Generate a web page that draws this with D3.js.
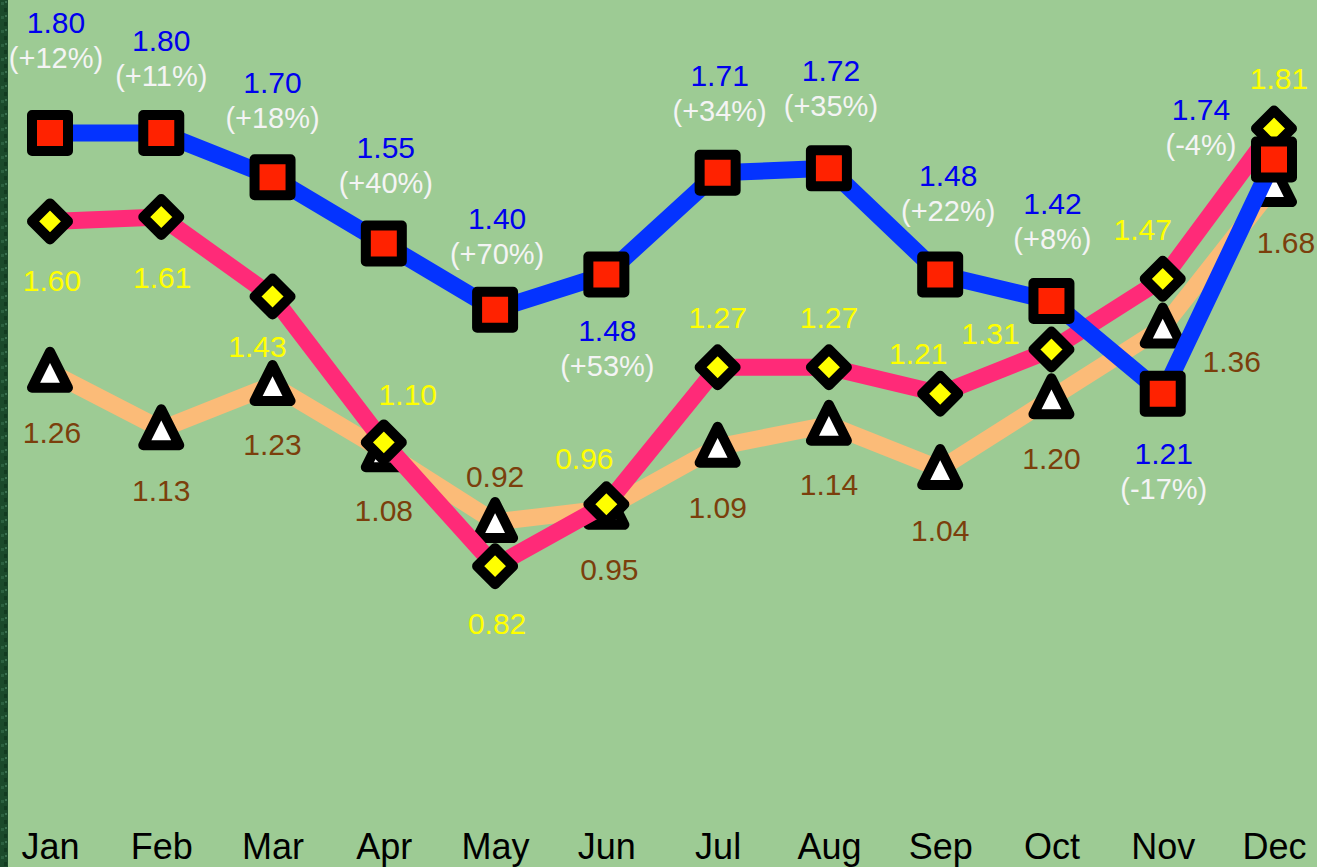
<!DOCTYPE html>
<html>
<head>
<meta charset="utf-8">
<script src="https://cdn.jsdelivr.net/npm/d3@7/dist/d3.min.js"></script>
<style>
  html, body { margin: 0; padding: 0; background: #9dcb94; }
  svg { display: block; }
  text { font-family: "Liberation Sans", Arial, sans-serif; }
</style>
</head>
<body>
<svg id="chart" width="1317" height="867"></svg>
<script>
// ---- data ----
const months = ["Jan","Feb","Mar","Apr","May","Jun","Jul","Aug","Sep","Oct","Nov","Dec"];
const blueValues   = [1.80, 1.80, 1.70, 1.55, 1.40, 1.48, 1.71, 1.72, 1.48, 1.42, 1.21, 1.74];
const pinkValues   = [1.60, 1.61, 1.43, 1.10, 0.82, 0.96, 1.27, 1.27, 1.21, 1.31, 1.47, 1.81];
const orangeValues = [1.26, 1.13, 1.23, 1.08, 0.92, 0.95, 1.09, 1.14, 1.04, 1.20, 1.36, 1.68];
const blueChange   = ["+12%","+11%","+18%","+40%","+70%","+53%","+34%","+35%","+22%","+8%","-17%","-4%"];

// ---- label layout (offsets from the point, px) ----
const blueLabelOffset   = [[6,-100],[0,-82],[0,-84],[2,-86],[2,-81],[1,67],[2,-87],[2,-87],[8,-88],[1,-87],[1,70],[-73,-40]];
const pinkLabelOffset   = [[2,70],[1,71],[-15,60],[24,-37],[2,68],[-22,-35],[0,-39],[0,-39],[-22,-30],[-61,-6],[-20,-39],[5,-40]];
const orangeLabelOffset = [[2,71],[0,72],[0,70],[0,70],[0,-35],[3,71],[0,71],[0,70],[0,72],[0,71],[69,45],[12,67]];

const W = 1317, H = 867;
const svg = d3.select("#chart");

// background
svg.append("rect").attr("width", W).attr("height", H).attr("fill", "#9dcb94");

// dark-green left strip with a subtle stripe texture
const defs = svg.append("defs");
const pat = defs.append("pattern").attr("id", "strip").attr("patternUnits", "userSpaceOnUse")
  .attr("width", 8).attr("height", 14);
pat.append("rect").attr("width", 8).attr("height", 14).attr("fill", "#1b4a2b");
pat.append("rect").attr("x", 1).attr("y", 2).attr("width", 3).attr("height", 3).attr("fill", "#2c6140");
pat.append("rect").attr("x", 4).attr("y", 8).attr("width", 3).attr("height", 4).attr("fill", "#123b20");
pat.append("rect").attr("x", 5).attr("y", 1).attr("width", 2).attr("height", 2).attr("fill", "#3a7050");
svg.append("rect").attr("x", 0).attr("y", 0).attr("width", 8).attr("height", H).attr("fill", "url(#strip)");

// scales
const x = d3.scalePoint().domain(months).range([50, 1274]);
const y = d3.scaleLinear().domain([0.8, 1.8]).range([575, 133]);

// x axis labels
const xAxis = d3.axisBottom(x).tickSize(0).tickPadding(0);
const axG = svg.append("g").attr("transform", "translate(0,832)").call(xAxis);
axG.select(".domain").remove();
axG.selectAll("text").attr("font-size", 36).attr("fill", "#000")
  .attr("dy", null).attr("y", 27).attr("font-family", "'Liberation Sans', Arial, sans-serif");

const series = [
  { values: orangeValues, line: "#fbbb78", symbol: "triangle", fill: "#ffffff", labelColor: "#7b3f0c", offsets: orangeLabelOffset },
  { values: pinkValues,   line: "#ff2a78", symbol: "diamond",  fill: "#ffff00", labelColor: "#ffff00", offsets: pinkLabelOffset },
  { values: blueValues,   line: "#0433ff", symbol: "square",   fill: "#ff2200", labelColor: "#0000ee", offsets: blueLabelOffset, change: blueChange }
];

const symbolPath = {
  square:   "M-18,-18L18,-18L18,18L-18,18Z",
  diamond:  "M0,-18L18,0L0,18L-18,0Z",
  triangle: "M0,-20L18,16L-18,16Z"
};

const lineGen = d3.line().x((d, i) => x(months[i])).y(d => y(d));

series.forEach(s => {
  const g = svg.append("g");
  g.append("path").datum(s.values).attr("d", lineGen)
    .attr("fill", "none").attr("stroke", s.line).attr("stroke-width", 17)
    .attr("stroke-linejoin", "round").attr("stroke-linecap", "butt");
  g.selectAll("path.sym").data(s.values).enter().append("path").attr("class", "sym")
    .attr("transform", (d, i) => `translate(${x(months[i])},${y(d)})`)
    .attr("d", symbolPath[s.symbol])
    .attr("fill", s.fill).attr("stroke", "#000").attr("stroke-width", 10)
    .attr("stroke-linejoin", "round");
});

// labels on top
series.forEach(s => {
  const g = svg.append("g");
  g.selectAll("text.v").data(s.values).enter().append("text").attr("class", "v")
    .attr("x", (d, i) => x(months[i]) + s.offsets[i][0])
    .attr("y", (d, i) => y(d) + s.offsets[i][1])
    .attr("text-anchor", "middle").attr("font-size", 30).attr("fill", s.labelColor)
    .text(d => d.toFixed(2));
  if (s.change) {
    g.selectAll("text.c").data(s.values).enter().append("text").attr("class", "c")
      .attr("x", (d, i) => x(months[i]) + s.offsets[i][0])
      .attr("y", (d, i) => y(d) + s.offsets[i][1] + 35)
      .attr("text-anchor", "middle").attr("font-size", 29).attr("fill", "#f4f4f4")
      .text((d, i) => "(" + s.change[i] + ")");
  }
});
</script>
</body>
</html>
